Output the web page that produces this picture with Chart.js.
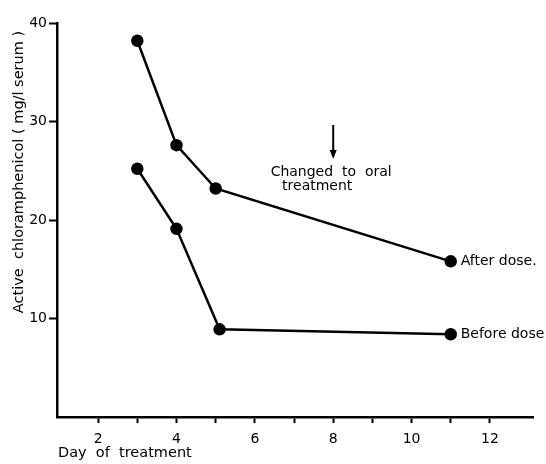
<!DOCTYPE html>
<html>
<head>
<meta charset="utf-8">
<script src="https://cdn.jsdelivr.net/npm/chart.js@4/dist/chart.umd.min.js"></script>
<style>
html, body { margin: 0; padding: 0; background: #fff; }
#wrap { width: 546px; height: 464px; }
</style>
</head>
<body>
<div id="wrap"><canvas id="myChart" width="546" height="464"></canvas></div>
<script>
'use strict';

// days of treatment
var afterDays = [3, 4, 5, 11]
var afterLevels = [38.2, 27.6, 23.2, 15.8]
var beforeDays = [3, 4, 5.1, 11]
var beforeLevels = [25.2, 19.1, 8.9, 8.4]

var xTicks = [2, 3, 4, 5, 6, 7, 8, 9, 10, 11, 12]
var xLabels = ['2', '', '4', '', '6', '', '8', '', '10', '', '12']
var yTicks = [10, 20, 30, 40]

var seriesNames = ['After dose.', 'Before dose']
var changeDay = 8
var changeText = ['Changed  to  oral', 'treatment']

var font = '"DejaVu Sans", sans-serif'

const toPoints = (xs, ys) => xs.map((x, i) => ({x: x, y: ys[i]}))

var notes = {
	id: 'notes',
	afterDraw(chart) {
		var ctx = chart.ctx, xs = chart.scales.x, ys = chart.scales.y
		ctx.save()
		ctx.fillStyle = '#000'
		ctx.strokeStyle = '#000'
		ctx.font = '14px ' + font
		ctx.textBaseline = 'middle'

		// end labels next to last points
		var lastA = afterDays.length - 1, lastB = beforeDays.length - 1
		ctx.textAlign = 'left'
		ctx.fillText(seriesNames[0], xs.getPixelForValue(afterDays[lastA]) + 10, ys.getPixelForValue(afterLevels[lastA]))
		ctx.fillText(seriesNames[1], xs.getPixelForValue(beforeDays[lastB]) + 10, ys.getPixelForValue(beforeLevels[lastB]))

		// arrow + note
		var ax = xs.getPixelForValue(changeDay)
		ctx.lineWidth = 2
		ctx.beginPath()
		ctx.moveTo(ax, 125)
		ctx.lineTo(ax, 152)
		ctx.stroke()
		ctx.beginPath()
		ctx.moveTo(ax - 3.5, 150)
		ctx.lineTo(ax + 3.5, 150)
		ctx.lineTo(ax, 159)
		ctx.closePath()
		ctx.fill()
		ctx.textAlign = 'center'
		ctx.fillText(changeText[0], ax - 2, 172)
		ctx.fillText(changeText[1], ax - 16, 186)

		// axis titles
		ctx.font = '14.5px ' + font
		ctx.textAlign = 'left'
		ctx.fillText('Day  of  treatment', 58, 453)
		ctx.translate(19, 172)
		ctx.rotate(-Math.PI / 2)
		ctx.textAlign = 'center'
		ctx.fillText('Active  chloramphenicol ( mg/l serum )', 0, 0)
		ctx.restore()
	}
}

var ds = (data) => ({
	data: data,
	showLine: true,
	borderColor: '#000',
	backgroundColor: '#000',
	borderWidth: 2.5,
	pointRadius: 5,
	pointHoverRadius: 5,
	tension: 0
})

var chart = new Chart(document.getElementById('myChart').getContext('2d'), {
	type: 'scatter',
	data: {
		datasets: [
			ds(toPoints(afterDays, afterLevels)),
			ds(toPoints(beforeDays, beforeLevels))
		]
	},
	options: {
		responsive: false,
		animation: false,
		events: [],
		layout: {padding: {left: 0, top: 23, right: 13, bottom: 0}},
		plugins: {legend: {display: false}, tooltip: {enabled: false}},
		scales: {
			x: {
				type: 'linear',
				min: 0.95,
				max: 13.1,
				afterBuildTicks: (s) => { s.ticks = xTicks.map((v) => ({value: v})) },
				afterFit: (s) => { s.height = 47 },
				border: {display: true, color: '#000', width: 2.5},
				grid: {drawOnChartArea: false, drawTicks: true, tickLength: 6, tickWidth: 2, color: '#000'},
				ticks: {
					color: '#000',
					padding: 8,
					maxRotation: 0,
					autoSkip: false,
					font: {family: font, size: 14},
					callback: (v, i) => xLabels[i]
				}
			},
			y: {
				min: 0,
				max: 40,
				afterBuildTicks: (s) => { s.ticks = yTicks.map((v) => ({value: v})) },
				afterFit: (s) => { s.width = 57 },
				border: {display: true, color: '#000', width: 2.5},
				grid: {drawOnChartArea: false, drawTicks: true, tickLength: 8, tickWidth: 2, color: '#000'},
				ticks: {
					color: '#000',
					padding: 2,
					font: {family: font, size: 14}
				}
			}
		}
	},
	plugins: [notes]
})
</script>
</body>
</html>
